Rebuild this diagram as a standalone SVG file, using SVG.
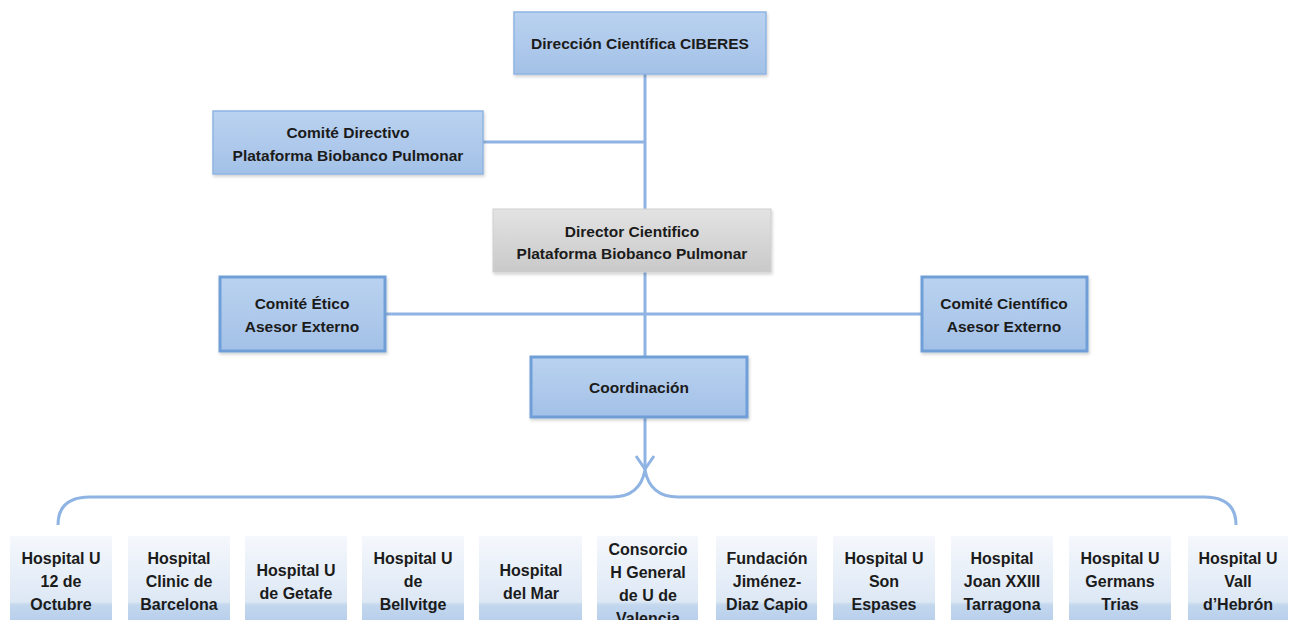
<svg xmlns="http://www.w3.org/2000/svg" width="1295" height="620" viewBox="0 0 1295 620">
<defs>
<linearGradient id="gBlue" x1="0" y1="0" x2="0" y2="1">
<stop offset="0" stop-color="#bad2f0"/><stop offset="1" stop-color="#a3c1e7"/>
</linearGradient>
<linearGradient id="gGray" x1="0" y1="0" x2="0" y2="1">
<stop offset="0" stop-color="#e3e3e3"/><stop offset="1" stop-color="#c9c9c9"/>
</linearGradient>
<linearGradient id="gHosp" x1="0" y1="536" x2="0" y2="620" gradientUnits="userSpaceOnUse">
<stop offset="0" stop-color="#f5f8fc"/><stop offset="0.78" stop-color="#dde8f5"/><stop offset="0.82" stop-color="#c3d7ee"/><stop offset="1" stop-color="#b9d0ec"/>
</linearGradient>
<filter id="sh" x="-10%" y="-10%" width="120%" height="130%">
<feDropShadow dx="1" dy="2" stdDeviation="1.5" flood-color="#000" flood-opacity="0.18"/>
</filter>
</defs>
<style>
text{font-family:"Liberation Sans",Arial,sans-serif;font-weight:bold;fill:#1b1b1b;text-anchor:middle}
.t14{font-size:15.5px}
.t16{font-size:16px}
.thin{fill:url(#gBlue);stroke:#8fb4e3;stroke-width:1.5}
.thick{fill:url(#gBlue);stroke:#6f9fd8;stroke-width:3}
.gray{fill:url(#gGray);stroke:#cfcfcf;stroke-width:1}
.hosp{fill:url(#gHosp)}
.con{fill:none;stroke:#8fb4e3;stroke-width:3}
</style>
<rect width="1295" height="620" fill="#ffffff"/>
<g id="connectors">
<line class="con" x1="645" y1="74" x2="645" y2="470"/>
<line class="con" x1="483" y1="142" x2="645" y2="142"/>
<line class="con" x1="386" y1="314" x2="921" y2="314"/>
<polyline class="con" points="636,456 645,469 654,456"/>
<path class="con" d="M58 525 Q58 497 90 497 L612 497 Q640 497 645 470 Q650 497 678 497 L1204 497 Q1236 497 1236 525"/>
</g>
<g id="direccion"><rect class="thin" x="514" y="12" width="252" height="62" filter="url(#sh)"/><text class="t14" x="640" y="49">Dirección Científica CIBERES</text></g>
<g id="comite-directivo"><rect class="thin" x="213" y="111" width="270" height="63" filter="url(#sh)"/><text class="t14" x="348" y="138">Comité Directivo</text><text class="t14" x="348" y="161">Plataforma Biobanco Pulmonar</text></g>
<g id="director"><rect class="gray" x="493" y="209" width="278" height="63" filter="url(#sh)"/><text class="t14" x="632" y="237">Director Cientifico</text><text class="t14" x="632" y="259">Plataforma Biobanco Pulmonar</text></g>
<g id="comite-etico"><rect class="thick" x="220" y="277" width="165" height="74" filter="url(#sh)"/><text class="t14" x="302" y="309">Comité Ético</text><text class="t14" x="302" y="332">Asesor Externo</text></g>
<g id="comite-cientifico"><rect class="thick" x="922" y="277" width="165" height="74" filter="url(#sh)"/><text class="t14" x="1004" y="309">Comité Científico</text><text class="t14" x="1004" y="332">Asesor Externo</text></g>
<g id="coordinacion"><rect class="thick" x="531" y="357" width="216" height="60" filter="url(#sh)"/><text class="t14" x="639" y="393">Coordinación</text></g>
<g id="h1"><rect class="hosp" x="10" y="536" width="102" height="84"/><text class="t16" x="61" y="564">Hospital U</text><text class="t16" x="61" y="587">12 de</text><text class="t16" x="61" y="610">Octubre</text></g>
<g id="h2"><rect class="hosp" x="128" y="536" width="102" height="84"/><text class="t16" x="179" y="564">Hospital</text><text class="t16" x="179" y="587">Clinic de</text><text class="t16" x="179" y="610">Barcelona</text></g>
<g id="h3"><rect class="hosp" x="245" y="536" width="102" height="84"/><text class="t16" x="296" y="576">Hospital U</text><text class="t16" x="296" y="599">de Getafe</text></g>
<g id="h4"><rect class="hosp" x="362" y="536" width="102" height="84"/><text class="t16" x="413" y="564">Hospital U</text><text class="t16" x="413" y="587">de</text><text class="t16" x="413" y="610">Bellvitge</text></g>
<g id="h5"><rect class="hosp" x="479" y="536" width="103" height="84"/><text class="t16" x="531" y="576">Hospital</text><text class="t16" x="531" y="599">del Mar</text></g>
<g id="h6"><rect class="hosp" x="597" y="536" width="101" height="84"/><text class="t16" x="648" y="555">Consorcio</text><text class="t16" x="648" y="578">H General</text><text class="t16" x="648" y="601">de U de</text><text class="t16" x="648" y="624">Valencia</text></g>
<g id="h7"><rect class="hosp" x="716" y="536" width="101" height="84"/><text class="t16" x="767" y="564">Fundación</text><text class="t16" x="767" y="587">Jiménez-</text><text class="t16" x="767" y="610">Diaz Capio</text></g>
<g id="h8"><rect class="hosp" x="833" y="536" width="102" height="84"/><text class="t16" x="884" y="564">Hospital U</text><text class="t16" x="884" y="587">Son</text><text class="t16" x="884" y="610">Espases</text></g>
<g id="h9"><rect class="hosp" x="951" y="536" width="102" height="84"/><text class="t16" x="1002" y="564">Hospital</text><text class="t16" x="1002" y="587">Joan XXIII</text><text class="t16" x="1002" y="610">Tarragona</text></g>
<g id="h10"><rect class="hosp" x="1069" y="536" width="102" height="84"/><text class="t16" x="1120" y="564">Hospital U</text><text class="t16" x="1120" y="587">Germans</text><text class="t16" x="1120" y="610">Trias</text></g>
<g id="h11"><rect class="hosp" x="1188" y="536" width="100" height="84"/><text class="t16" x="1238" y="564">Hospital U</text><text class="t16" x="1238" y="587">Vall</text><text class="t16" x="1238" y="610">d’Hebrón</text></g>
</svg>
